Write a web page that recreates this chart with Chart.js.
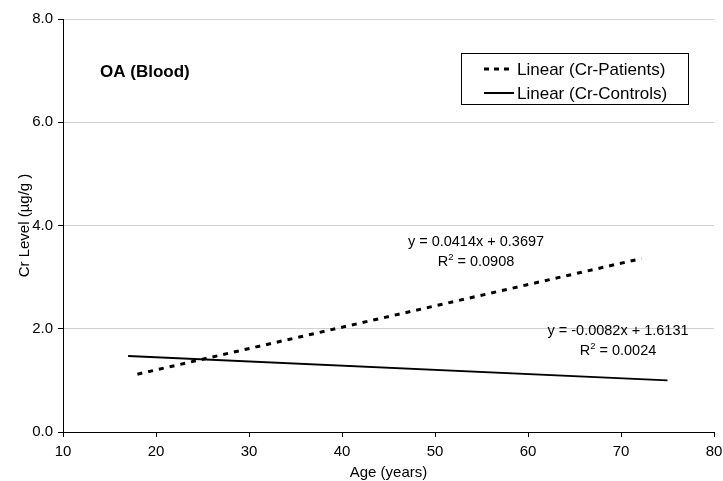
<!DOCTYPE html>
<html>
<head>
<meta charset="utf-8">
<script src="https://cdn.jsdelivr.net/npm/chart.js@4"></script>
<style>
  html, body { margin: 0; padding: 0; background: #fff; }
  #wrap { width: 723px; height: 481px; }
</style>
</head>
<body>
<div id="wrap"><canvas id="c" width="723" height="481"></canvas></div>
<script>
// ---- data ----
const patientsAge = [18, 72.2];
const patientsCr  = [1.12, 3.36];
const controlsAge = [17, 75];
const controlsCr  = [1.47, 1.00];
const seriesNames = ['Linear (Cr-Patients)', 'Linear (Cr-Controls)'];
const xTicks = [10, 20, 30, 40, 50, 60, 70, 80];
const yTicks = [0, 2, 4, 6, 8];
const chartTitle = 'OA (Blood)';
const eqPatients = ['y = 0.0414x + 0.3697', '0.0908'];
const eqControls = ['y = -0.0082x + 1.6131', '0.0024'];

const FONT = "'Liberation Sans', Arial, sans-serif";

const toPts = (xs, ys) => xs.map((x, i) => ({ x: x, y: ys[i] }));

const overlay = {
  id: 'overlay',
  afterDraw(chart) {
    const ctx = chart.ctx;
    ctx.save();
    ctx.fillStyle = '#000';
    ctx.textBaseline = 'middle';
    // title
    ctx.font = 'bold 17px ' + FONT;
    ctx.textAlign = 'left';
    ctx.fillText(chartTitle, 100, 72);

    // equations
    function eq(lines, cx, cy) {
      const big = '14.5px ' + FONT, small = '9.5px ' + FONT;
      ctx.font = big;
      ctx.textAlign = 'center';
      ctx.fillText(lines[0], cx, cy);
      const r = 'R', rest = ' = ' + lines[1];
      const wR = ctx.measureText(r).width;
      const wRest = ctx.measureText(rest).width;
      ctx.font = small;
      const wS = ctx.measureText('2').width;
      const total = wR + wS + wRest;
      const x0 = cx - total / 2;
      ctx.textAlign = 'left';
      ctx.font = big;
      ctx.fillText(r, x0, cy + 20);
      ctx.font = small;
      ctx.fillText('2', x0 + wR, cy + 15);
      ctx.font = big;
      ctx.fillText(rest, x0 + wR + wS, cy + 20);
    }
    eq(eqPatients, 476, 242);
    eq(eqControls, 618, 331);

    // legend box
    const bx = 461, by = 53, bw = 227, bh = 51;
    ctx.fillStyle = '#fff';
    ctx.fillRect(bx, by, bw, bh);
    ctx.strokeStyle = '#000';
    ctx.lineWidth = 1;
    ctx.strokeRect(bx + 0.5, by + 0.5, bw, bh);
    const rows = [
      { y: 69, dash: [5, 5], w: 3 },
      { y: 93, dash: [], w: 2 }
    ];
    rows.forEach((r, i) => {
      ctx.beginPath();
      ctx.setLineDash(r.dash);
      ctx.lineWidth = r.w;
      ctx.strokeStyle = '#000';
      ctx.moveTo(484, r.y);
      ctx.lineTo(514, r.y);
      ctx.stroke();
      ctx.setLineDash([]);
      ctx.fillStyle = '#000';
      ctx.font = '17px ' + FONT;
      ctx.textAlign = 'left';
      ctx.fillText(seriesNames[i], 517, r.y + 1);
    });
    ctx.restore();
  }
};

new Chart(document.getElementById('c'), {
  type: 'scatter',
  data: {
    datasets: [
      {
        label: seriesNames[0],
        data: toPts(patientsAge, patientsCr),
        showLine: true,
        borderColor: '#000',
        borderWidth: 3,
        borderDash: [5, 6],
        pointRadius: 0,
        fill: false
      },
      {
        label: seriesNames[1],
        data: toPts(controlsAge, controlsCr),
        showLine: true,
        borderColor: '#000',
        borderWidth: 2,
        pointRadius: 0,
        fill: false
      }
    ]
  },
  options: {
    responsive: false,
    animation: false,
    layout: { padding: { top: 19, right: 9, left: 0, bottom: 0 } },
    plugins: {
      legend: { display: false },
      tooltip: { enabled: false }
    },
    scales: {
      x: {
        type: 'linear',
        min: 10, max: 80,
        afterBuildTicks: s => { s.ticks = xTicks.map(v => ({ value: v })); },
        afterFit: s => { s.height = 49; s.paddingRight = 0; s.paddingLeft = 0; },
        ticks: { color: '#000', font: { family: FONT, size: 15 }, padding: 6, maxRotation: 0 },
        grid: { drawOnChartArea: false, drawTicks: true, tickLength: 5, tickColor: '#000' },
        border: { color: '#000', width: 1 },
        title: { display: true, text: 'Age (years)', color: '#000', font: { family: FONT, size: 15 }, padding: { top: 0, bottom: -1 } }
      },
      y: {
        type: 'linear',
        min: 0, max: 8,
        afterBuildTicks: s => { s.ticks = yTicks.map(v => ({ value: v })); },
        afterFit: s => { s.width = 63; s.paddingTop = 0; s.paddingBottom = 0; },
        ticks: { color: '#000', font: { family: FONT, size: 15 }, padding: 5, callback: v => Number(v).toFixed(1) },
        grid: { color: '#d0d0d0', lineWidth: 1, drawTicks: true, tickLength: 5, tickColor: '#000' },
        border: { color: '#000', width: 1 },
        title: { display: true, text: 'Cr Level (µg/g )', color: '#000', font: { family: FONT, size: 15 }, padding: { top: 16, bottom: 0 } }
      }
    }
  },
  plugins: [overlay]
});
</script>
</body>
</html>
